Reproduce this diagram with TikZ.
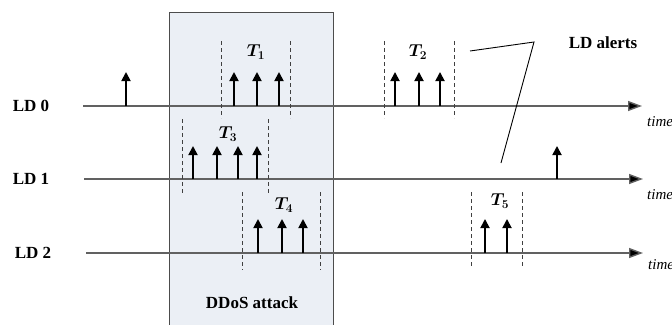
\documentclass[tikz,border=0pt]{standalone}
\usepackage{fontspec}
\usepackage{amsmath,amsbsy}
\setmainfont{Liberation Serif}
\usetikzlibrary{arrows.meta,positioning}
\definecolor{attackfill}{RGB}{235,239,245}
\newcommand{\win}[1]{$T_{\hbox{\fontsize{13}{13}\selectfont\boldmath$#1$}}$}
\tikzset{
  lane/.style={
    draw=black!62,
    line width=1.4pt,
    -{Triangle[length=14pt,width=10pt,fill=black]}
  },
  pulse/.style={
    draw=black,
    line width=1.8pt,
    -{Triangle[length=9pt,width=9pt]}
  },
  window/.style={
    draw=black!75,
    line width=0.8pt,
    dash pattern=on 4pt off 3pt
  },
  attack/.style={
    draw=black!70,
    line width=1pt,
    fill=attackfill
  },
  lanelabel/.style={
    font=\fontsize{17}{20}\selectfont\bfseries,
    inner sep=0pt
  },
  winlabel/.style={
    font=\fontsize{16}{19}\selectfont\boldmath,
    inner sep=0pt
  },
  timelabel/.style={
    font=\fontsize{15}{18}\selectfont\itshape,
    anchor=base west,
    inner sep=0pt
  },
  callout/.style={draw=black, line width=0.9pt}
}

\begin{document}
\begin{tikzpicture}[x=1pt,y=-1pt]
\useasboundingbox (0,0) rectangle (672,324);

% DDoS attack period
\draw[attack] (169,12) rectangle (333,330);
\node[lanelabel] (ddos) at (252,303) {DDoS attack};

% Lanes
\node[lanelabel] (ld0) at (31,106) {LD 0};
\node[lanelabel] (ld1) at (31,179) {LD 1};
\node[lanelabel] (ld2) at (33,253) {LD 2};

\coordinate (s0) at (83,106);  \coordinate (e0) at (642,106);
\coordinate (s1) at (84,179);  \coordinate (e1) at (643,179);
\coordinate (s2) at (86,253);  \coordinate (e2) at (643,253);

\draw[lane] (s0) -- (e0);
\draw[lane] (s1) -- (e1);
\draw[lane] (s2) -- (e2);

\node[timelabel] (t0) at (647,126) {time};
\node[timelabel] (t1) at (647,199) {time};
\node[timelabel] (t2) at (648,269) {time};

% Alerts
\foreach \x in {126,234,257,279,395,419,440}
  \draw[pulse] (\x,106) -- ++(0,-34);
\foreach \x in {193,217,238,257,557}
  \draw[pulse] (\x,179) -- ++(0,-33);
\foreach \x in {258,282,303,485,507}
  \draw[pulse] (\x,253) -- ++(0,-34);

% Windows
\foreach \x in {221,290,384,454}
  \draw[window] (\x,41) -- (\x,118);
\foreach \x in {182,268}
  \draw[window] (\x,119) -- (\x,193);
\foreach \x in {242,320}
  \draw[window] (\x,192) -- (\x,270);
\foreach \x in {471,522}
  \draw[window] (\x,192) -- (\x,266);

\node[winlabel] (w1) at (256,52) {\win{1}};
\node[winlabel] (w2) at (418,52) {\win{2}};
\node[winlabel] (w3) at (228,134) {\win{3}};
\node[winlabel] (w4) at (284,205) {\win{4}};
\node[winlabel] (w5) at (500,201) {\win{5}};

% Callout
\node[lanelabel] (alerts) at (603,43) {LD alerts};
\coordinate (c0) at (470,51);
\coordinate (c1) at (534,42);
\coordinate (c2) at (501,163);
\draw[callout] (c0) -- (c1) -- (c2);

\end{tikzpicture}
\end{document}
